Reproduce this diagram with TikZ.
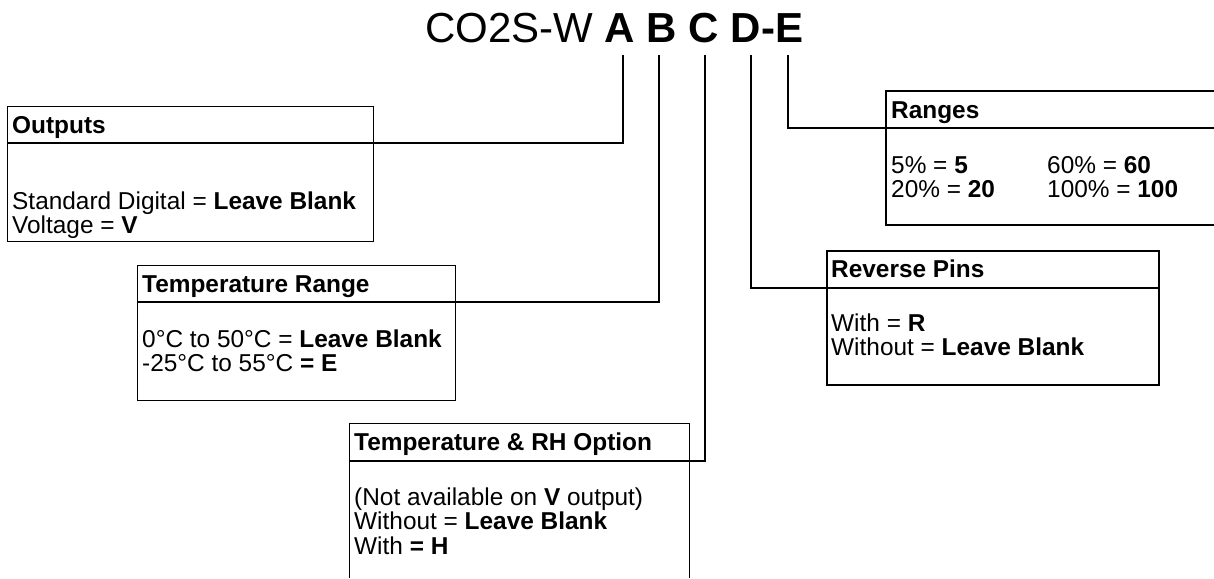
\documentclass[tikz,border=0pt]{standalone}
\usepackage{fontspec}
\setmainfont{Liberation Sans}
\tikzset{
  thinbox/.style={draw=black, line width=1pt},
  thickbox/.style={draw=black, line width=2pt},
  conn/.style={draw=black, line width=2pt},
  sepline/.style={draw=black, line width=1.6pt},
  hd/.style={anchor=base west, inner sep=0pt, font=\fontsize{24.4}{24}\selectfont\bfseries},
  bd/.style={anchor=base west, inner sep=0pt, font=\fontsize{24.4}{24}\selectfont},
}
\begin{document}
\begin{tikzpicture}[x=1pt,y=-1pt]
\useasboundingbox (0,0) rectangle (1214,578);
\fill[white] (0,0) rectangle (1214,578);

% title
\node[anchor=base west, inner sep=0pt, font=\fontsize{42}{42}\selectfont] (title) at (425,42) {CO2S-W \textbf{A B C D-E}};
\coordinate (tA) at (623,55);
\coordinate (tB) at (659,55);
\coordinate (tC) at (705,55);
\coordinate (tD) at (751,55);
\coordinate (tE) at (788,55);

% Outputs box
\node[thinbox, rectangle, anchor=north west, minimum width=366pt, minimum height=135pt, inner sep=0pt] (outbox) at (7,106) {};
\coordinate (outsep) at (373,143);
\draw[sepline] (outbox.west |- outsep) -- (outsep);
\draw[conn] (tA) |- (outsep);
\node[hd] (outh) at (12,133) {Outputs};
\node[bd] (out1) at (12,209) {Standard Digital = \textbf{Leave Blank}};
\node[bd] (out2) at (12,233) {Voltage = \textbf{V}};

% Temperature Range box
\node[thinbox, rectangle, anchor=north west, minimum width=318pt, minimum height=135pt, inner sep=0pt] (trbox) at (137,265) {};
\coordinate (trsep) at (455,302);
\draw[sepline] (trbox.west |- trsep) -- (trsep);
\draw[conn] (tB) |- (trsep);
\node[hd] (trh) at (142,292) {Temperature Range};
\node[bd] (tr1) at (142,347) {0°C to 50°C = \textbf{Leave Blank}};
\node[bd] (tr2) at (142,371) {-25°C to 55°C \textbf{= E}};

% Temperature & RH box (open bottom)
\coordinate (rhsw) at (349,578);
\coordinate (rhnw) at (349,423);
\coordinate (rhne) at (689,423);
\coordinate (rhse) at (689,578);
\draw[thinbox] (rhsw) -- (rhnw) -- (rhne) -- (rhse);
\coordinate (rhsep) at (689,461);
\draw[sepline] (rhnw |- rhsep) -- (rhsep);
\draw[conn] (tC) |- (rhsep);
\node[hd] (rhh) at (354,450) {Temperature \& RH Option};
\node[bd] (rh1) at (354,505) {(Not available on \textbf{V} output)};
\node[bd] (rh2) at (354,529.5) {Without = \textbf{Leave Blank}};
\node[bd] (rh3) at (354,554) {With \textbf{= H}};

% Ranges box (runs off the right edge)
\coordinate (rgnw) at (886,91);
\coordinate (rgsw) at (886,225);
\draw[thickbox] (1222,91) -- (rgnw) -- (rgsw) -- (1222,225);
\coordinate (rgsep) at (886,128);
\draw[sepline] (rgsep) -- (1222,128);
\draw[conn] (tE) |- (rgsep);
\node[hd] (rgh) at (891,118) {Ranges};
\node[bd] (rg1) at (891,173) {5\% = \textbf{5}};
\node[bd] (rg2) at (1047,173) {60\% = \textbf{60}};
\node[bd] (rg3) at (891,197.5) {20\% = \textbf{20}};
\node[bd] (rg4) at (1047,197.5) {100\% = \textbf{100}};

% Reverse Pins box
\node[thickbox, rectangle, anchor=north west, minimum width=332pt, minimum height=134pt, inner sep=0pt] (rpbox) at (826,250) {};
\coordinate (rpsep) at (826,288);
\draw[sepline] (rpsep) -- (rpbox.east |- rpsep);
\draw[conn] (tD) |- (rpsep);
\node[hd] (rph) at (831,277) {Reverse Pins};
\node[bd] (rp1) at (831,331) {With = \textbf{R}};
\node[bd] (rp2) at (831,355) {Without = \textbf{Leave Blank}};
\end{tikzpicture}
\end{document}
